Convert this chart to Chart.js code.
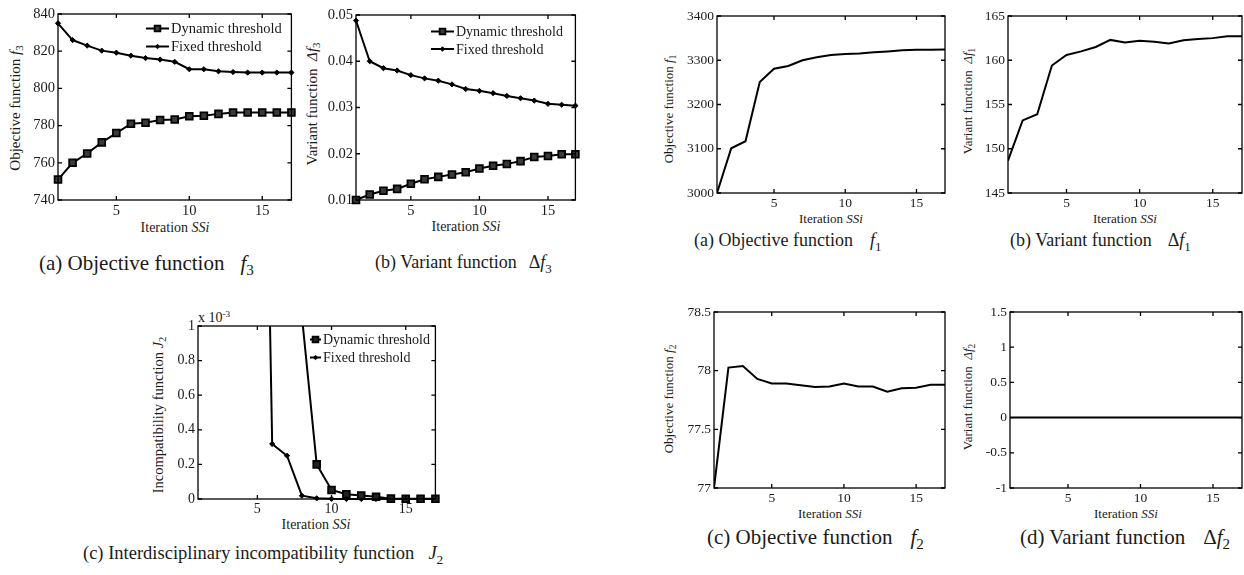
<!DOCTYPE html>
<html>
<head>
<meta charset="utf-8">
<script src="https://cdn.jsdelivr.net/npm/chart.js@4.4.1/dist/chart.umd.min.js"></script>
<style>
  body { margin: 0; width: 1244px; height: 575px; background: #fff; position: relative; overflow: hidden;
         font-family: "Liberation Serif", "Times New Roman", serif; color: #1a1a1a; }
  canvas { position: absolute; }
  .t { position: absolute; white-space: nowrap; line-height: 1; transform: translate(-50%, -50%); }
  .v { transform: translate(-50%, -50%) rotate(-90deg); }
  .l { position: absolute; white-space: nowrap; line-height: 1; }
  .cap { position: absolute; white-space: nowrap; line-height: 1; }
  .cap .sym { display: inline-block; }
  sub { font-size: 72%; vertical-align: -0.35em; line-height: 0; }
  sup { font-size: 65%; vertical-align: 0.6em; line-height: 0; }
</style>
</head>
<body>

<!-- axis titles -->
<div class="t v" style="left:15px;top:108px;font-size:15px">Objective function <i>f</i><sub>3</sub></div>
<div class="t" style="left:175px;top:228px;font-size:14px">Iteration <i>SSi</i></div>
<div class="t v" style="left:312px;top:104px;font-size:15px">Variant function &nbsp;<i>&Delta;f</i><sub>3</sub></div>
<div class="t" style="left:466px;top:227px;font-size:14px">Iteration <i>SSi</i></div>
<div class="t v" style="left:158px;top:415px;font-size:14.5px">Incompatibility function <i>J</i><sub>2</sub></div>
<div class="t" style="left:316px;top:525px;font-size:14px">Iteration <i>SSi</i></div>
<div class="l" style="left:198px;top:311px;font-size:14px">x 10<sup>-3</sup></div>

<div class="t v" style="left:668px;top:109px;font-size:13px">Objective function <i>f</i><sub>1</sub></div>
<div class="t" style="left:831px;top:218px;font-size:13px">Iteration <i>SSi</i></div>
<div class="t v" style="left:967px;top:101px;font-size:13px">Variant function &nbsp;<i>&Delta;f</i><sub>1</sub></div>
<div class="t" style="left:1125px;top:218px;font-size:13px">Iteration <i>SSi</i></div>
<div class="t v" style="left:668px;top:399px;font-size:13px">Objective function <i>f</i><sub>2</sub></div>
<div class="t" style="left:830px;top:513px;font-size:13px">Iteration <i>SSi</i></div>
<div class="t v" style="left:967px;top:397px;font-size:13px">Variant function &nbsp;<i>&Delta;f</i><sub>2</sub></div>
<div class="t" style="left:1126px;top:513px;font-size:13px">Iteration <i>SSi</i></div>

<!-- captions -->
<div class="cap" style="left:39px;top:253px;font-size:21px">(a) Objective function<span class="sym" style="margin-left:16px"><i>f</i><sub>3</sub></span></div>
<div class="cap" style="left:375px;top:253px;font-size:18px">(b) Variant function<span class="sym" style="margin-left:12px">&Delta;<i>f</i><sub>3</sub></span></div>
<div class="cap" style="left:83px;top:544px;font-size:18.5px">(c) Interdisciplinary incompatibility function<span class="sym" style="margin-left:14px"><i>J</i><sub>2</sub></span></div>
<div class="cap" style="left:694px;top:231px;font-size:18px">(a) Objective function<span class="sym" style="margin-left:17px"><i>f</i><sub>1</sub></span></div>
<div class="cap" style="left:1010px;top:231px;font-size:18px">(b) Variant function<span class="sym" style="margin-left:16px">&Delta;<i>f</i><sub>1</sub></span></div>
<div class="cap" style="left:707px;top:527px;font-size:21px">(c) Objective function<span class="sym" style="margin-left:18px"><i>f</i><sub>2</sub></span></div>
<div class="cap" style="left:1020px;top:527px;font-size:21px">(d) Variant function<span class="sym" style="margin-left:18px">&Delta;<i>f</i><sub>2</sub></span></div>

<script>
const iterations = [1, 2, 3, 4, 5, 6, 7, 8, 9, 10, 11, 12, 13, 14, 15, 16, 17];
const xTicks = [5, 10, 15];

// left figure: dynamic vs fixed threshold
const f3Dynamic = [751, 760, 765, 771, 776, 781, 781.5, 783, 783.3, 785, 785.3, 786.3, 787, 787, 787, 787, 787];
const f3Fixed = [835, 826, 823, 820.3, 819.2, 817.6, 816.3, 815.5, 814.3, 810.3, 810.3, 809.2, 808.8, 808.5, 808.5, 808.5, 808.5];
const df3Dynamic = [0.0100, 0.0112, 0.0120, 0.0124, 0.0135, 0.0145, 0.0150, 0.0155, 0.0160, 0.0168, 0.0174, 0.0178, 0.0184, 0.0193, 0.0195, 0.0199, 0.0199];
const df3Fixed = [0.0488, 0.0400, 0.0385, 0.0380, 0.0370, 0.0363, 0.0358, 0.0350, 0.0340, 0.0336, 0.0331, 0.0325, 0.0320, 0.0315, 0.0308, 0.0306, 0.0304];
// J2 in units of 1e-3 (early iterations are off the top of the axis)
const j2Dynamic = [9.0, 7.5, 6.0, 4.5, 3.3, 2.4, 1.7, 1.06, 0.2, 0.052, 0.027, 0.02, 0.013, 0.002, 0.001, 0.001, 0.001];
const j2Fixed = [12, 10, 8.5, 7, 5.0, 0.318, 0.25, 0.019, 0.004, 0.001, 0, 0, 0, 0, 0, 0, 0];

// right figure: single runs
const f1Values = [3000, 3101, 3117, 3251, 3281, 3287, 3300, 3306.6, 3311.9, 3314, 3315, 3318, 3320, 3322.4, 3324, 3324, 3324.5];
const df1Values = [148.65, 153.2, 153.9, 159.4, 160.6, 161.0, 161.5, 162.3, 162.0, 162.2, 162.1, 161.9, 162.26, 162.4, 162.5, 162.7, 162.7];
const f2Values = [77.0, 78.026, 78.04, 77.93, 77.89, 77.89, 77.875, 77.86, 77.865, 77.89, 77.865, 77.865, 77.82, 77.85, 77.855, 77.88, 77.88];
const df2Values = [0, 0, 0, 0, 0, 0, 0, 0, 0, 0, 0, 0, 0, 0, 0, 0, 0];

const yTicksF3 = [740, 760, 780, 800, 820, 840];
const yTicksDf3 = [0.01, 0.02, 0.03, 0.04, 0.05];
const yTicksJ2 = [0, 0.2, 0.4, 0.6, 0.8, 1];
const yTicksF1 = [3000, 3100, 3200, 3300, 3400];
const yTicksDf1 = [145, 150, 155, 160, 165];
const yTicksF2 = [77, 77.5, 78, 78.5];
const yTicksDf2 = [-1, -0.5, 0, 0.5, 1, 1.5];

const FONT = "'Liberation Serif', 'Times New Roman', serif";
const AX_W = 48, AX_H = 22, PAD_T = 12, PAD_R = 6;

const pts = (ys) => iterations.map((x, i) => ({ x: x, y: ys[i] }));

function dynamicSet(ys, fill, clip) {
  return { label: 'Dynamic threshold', data: pts(ys), borderColor: '#000', borderWidth: 2,
    pointStyle: 'rect', pointRadius: 4.8, pointBackgroundColor: fill, pointBorderColor: '#000',
    pointBorderWidth: 1.8, clip: clip };
}
function fixedSet(ys, clip) {
  return { label: 'Fixed threshold', data: pts(ys), borderColor: '#000', borderWidth: 2,
    pointStyle: 'rectRot', pointRadius: 2.6, pointBackgroundColor: '#000', pointBorderColor: '#000',
    pointBorderWidth: 1, clip: clip };
}
function plainSet(ys) {
  return { data: pts(ys), borderColor: '#000', borderWidth: 2, pointRadius: 0 };
}

// box with inward ticks on all four sides
const framePlugin = {
  id: 'frame',
  afterDatasetsDraw(chart) {
    const { ctx, chartArea: a, scales: { x, y } } = chart;
    ctx.save();
    ctx.strokeStyle = '#000';
    ctx.lineWidth = 1.3;
    ctx.strokeRect(a.left, a.top, a.right - a.left, a.bottom - a.top);
    ctx.beginPath();
    x.ticks.forEach(t => {
      const px = x.getPixelForValue(t.value);
      ctx.moveTo(px, a.bottom); ctx.lineTo(px, a.bottom - 4);
      ctx.moveTo(px, a.top); ctx.lineTo(px, a.top + 4);
    });
    y.ticks.forEach(t => {
      const py = y.getPixelForValue(t.value);
      ctx.moveTo(a.left, py); ctx.lineTo(a.left + 4, py);
      ctx.moveTo(a.right, py); ctx.lineTo(a.right - 4, py);
    });
    ctx.stroke();
    ctx.restore();
  }
};

// matlab-ish legend: line sample with marker, no box
const miniLegend = {
  id: 'miniLegend',
  afterDraw(chart, args, opts) {
    if (!opts || opts.x === undefined) return;
    const { ctx, chartArea: a } = chart;
    chart.data.datasets.forEach((ds, i) => {
      const x0 = a.left + opts.x, y = a.top + opts.rows[i];
      ctx.save();
      ctx.strokeStyle = '#000';
      ctx.lineWidth = 2;
      ctx.beginPath();
      ctx.moveTo(x0, y); ctx.lineTo(x0 + opts.len, y);
      ctx.stroke();
      ctx.fillStyle = ds.pointBackgroundColor;
      ctx.strokeStyle = ds.pointBorderColor;
      ctx.lineWidth = ds.pointBorderWidth;
      Chart.helpers.drawPoint(ctx, { pointStyle: ds.pointStyle, radius: ds.pointRadius * 0.85, borderWidth: ds.pointBorderWidth, rotation: 0 }, x0 + opts.len / 2, y);
      ctx.fillStyle = '#1a1a1a';
      ctx.font = opts.size + 'px ' + FONT;
      ctx.textBaseline = 'middle';
      ctx.fillText(ds.label, x0 + opts.len + 2, y + 1);
      ctx.restore();
    });
  }
};

const edgeClip = { left: 8, right: 8, top: 8, bottom: 8 };
const topClip = { left: 8, right: 8, top: 0, bottom: 8 };

const panels = [
  { area: [58, 14, 292, 200], y: [740, 840], yTicks: yTicksF3, size: 14.5,
    datasets: [dynamicSet(f3Dynamic, '#3a3a3a', edgeClip), fixedSet(f3Fixed, edgeClip)],
    legend: { x: 88, rows: [14.5, 32.5], len: 23, size: 14.5 } },
  { area: [356, 15, 576, 200], y: [0.01, 0.05], yTicks: yTicksDf3, size: 14.5,
    datasets: [dynamicSet(df3Dynamic, '#3a3a3a', edgeClip), fixedSet(df3Fixed, edgeClip)],
    legend: { x: 75, rows: [16.5, 34], len: 23, size: 14 } },
  { area: [198, 326, 436, 499], y: [0, 1], yTicks: yTicksJ2, size: 14,
    datasets: [dynamicSet(j2Dynamic, '#222', topClip), fixedSet(j2Fixed, topClip)],
    legend: { x: 112, rows: [13.5, 31.5], len: 11, size: 14 } },
  { area: [717, 16, 945, 193], y: [3000, 3400], yTicks: yTicksF1, size: 13.5, datasets: [plainSet(f1Values)] },
  { area: [1008, 16, 1242, 193], y: [145, 165], yTicks: yTicksDf1, size: 13.5, datasets: [plainSet(df1Values)] },
  { area: [714, 312, 945, 488], y: [77, 78.5], yTicks: yTicksF2, size: 13.5, datasets: [plainSet(f2Values)] },
  { area: [1010, 312, 1242, 488], y: [-1, 1.5], yTicks: yTicksDf2, size: 13.5, datasets: [plainSet(df2Values)] }
];

panels.forEach(p => {
  const [L, T, R, B] = p.area;
  const cv = document.createElement('canvas');
  const w = R - L + AX_W + PAD_R, h = B - T + PAD_T + AX_H;
  cv.width = w; cv.height = h;
  cv.style.left = (L - AX_W) + 'px';
  cv.style.top = (T - PAD_T) + 'px';
  cv.style.width = w + 'px';
  cv.style.height = h + 'px';
  document.body.appendChild(cv);

  const tickFont = { family: FONT, size: p.size };
  new Chart(cv.getContext('2d'), {
    type: 'line',
    data: { datasets: p.datasets },
    plugins: [framePlugin, miniLegend],
    options: {
      responsive: false,
      animation: false,
      layout: { padding: { top: PAD_T, right: PAD_R, left: 0, bottom: 0 } },
      elements: { line: { tension: 0 } },
      plugins: { legend: { display: false }, tooltip: { enabled: false }, miniLegend: p.legend || {} },
      scales: {
        x: {
          type: 'linear', min: 1, max: 17,
          grid: { display: false, drawTicks: false }, border: { display: false },
          afterBuildTicks: s => { s.ticks = xTicks.map(v => ({ value: v })); },
          afterFit: s => { s.height = AX_H; },
          ticks: { color: '#1a1a1a', font: tickFont, padding: 2, maxRotation: 0, autoSkip: false }
        },
        y: {
          type: 'linear', min: p.y[0], max: p.y[1],
          grid: { display: false, drawTicks: false }, border: { display: false },
          afterBuildTicks: s => { s.ticks = p.yTicks.map(v => ({ value: v })); },
          afterFit: s => { s.width = AX_W; },
          ticks: { color: '#1a1a1a', font: tickFont, padding: 3, autoSkip: false, callback: v => String(v) }
        }
      }
    }
  });
});
</script>
</body>
</html>
